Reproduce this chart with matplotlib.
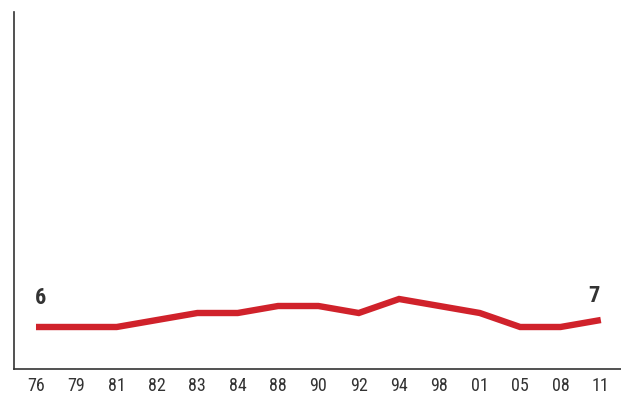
import numpy as np
import matplotlib
matplotlib.use("Agg")
import matplotlib.pyplot as plt
from matplotlib import font_manager

years = ["76", "79", "81", "82", "83", "84", "88", "90", "92", "94", "98", "01", "05", "08", "11"]
values = [6, 6, 6, 7, 8, 8, 9, 9, 8, 10, 9, 8, 6, 6, 7]

# narrow face if available, else plain sans
names = {f.name for f in font_manager.fontManager.ttflist}
family = "DejaVu Sans"
for cand in ["Liberation Sans Narrow", "DejaVu Sans Condensed", "Roboto Condensed", "Open Sans Condensed"]:
    if cand in names:
        family = cand
        break
plt.rcParams["font.family"] = [family, "DejaVu Sans"]

fig = plt.figure(figsize=(6.21, 3.97), dpi=100)
ax = fig.add_axes([14 / 621, 1 - 369 / 397, 1 - 14 / 621, (369 - 12) / 397])

x = np.arange(len(years))
ax.plot(x, values, color="#d0222b", lw=4.6, solid_joinstyle="miter", solid_capstyle="butt")

ax.set_xlim(-0.545, len(years) - 0.5)
ax.set_ylim(0, 51)
ax.set_xticks(x)
ax.set_xticklabels(years, fontsize=13, color="#333333")
ax.tick_params(axis="x", length=0, pad=6)
ax.set_yticks([])

for side in ["top", "right"]:
    ax.spines[side].set_visible(False)
for side in ["left", "bottom"]:
    ax.spines[side].set_color("#333333")
    ax.spines[side].set_linewidth(1.2)

# value labels at the start and end of the series
ax.annotate(str(values[0]), (x[0], values[0]), xytext=(3.5, 13), textcoords="offset points",
            ha="center", va="bottom", fontsize=16, fontweight="bold", color="#333333")
ax.annotate(str(values[-1]), (x[-1], values[-1]), xytext=(-5, 9), textcoords="offset points",
            ha="center", va="bottom", fontsize=16, fontweight="bold", color="#333333")

fig.savefig("out.png", dpi=100)
